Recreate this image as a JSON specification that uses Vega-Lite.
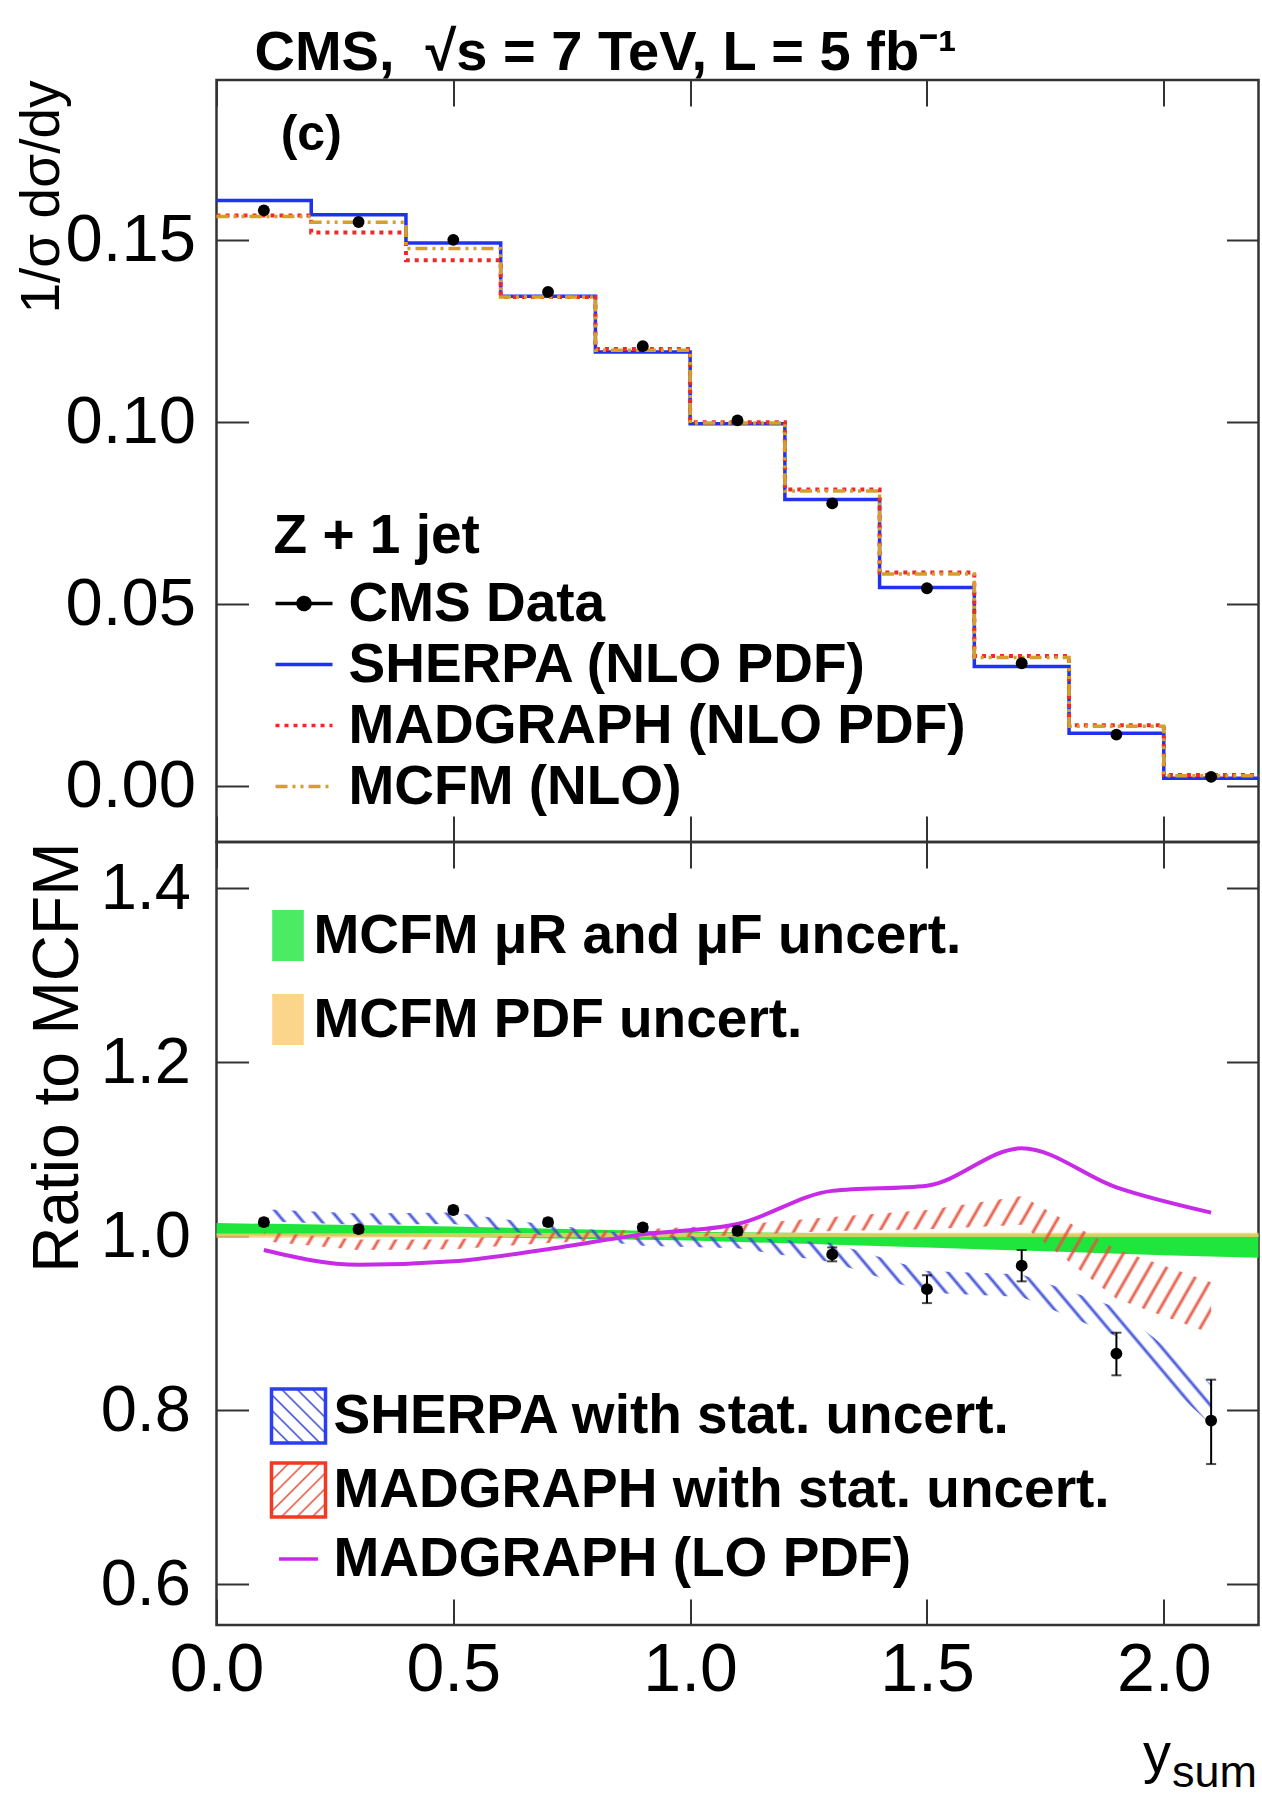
{
"$schema": "https://vega.github.io/schema/vega-lite/v6.json",
"background": "white",
"padding": {"left": 12.5, "top": 23, "right": 0, "bottom": 0},
"spacing": 0,
"bounds": "flush",
"datasets": {
"steps": [
{"edge":0,"series":"SHERPA (NLO PDF)","v":0.1609},{"edge":0.2,"series":"SHERPA (NLO PDF)","v":0.1570},{"edge":0.4,"series":"SHERPA (NLO PDF)","v":0.1492},{"edge":0.6,"series":"SHERPA (NLO PDF)","v":0.1346},{"edge":0.8,"series":"SHERPA (NLO PDF)","v":0.1193},{"edge":1.0,"series":"SHERPA (NLO PDF)","v":0.0996},{"edge":1.2,"series":"SHERPA (NLO PDF)","v":0.0788},{"edge":1.4,"series":"SHERPA (NLO PDF)","v":0.0546},{"edge":1.6,"series":"SHERPA (NLO PDF)","v":0.0329},{"edge":1.8,"series":"SHERPA (NLO PDF)","v":0.0146},{"edge":2.0,"series":"SHERPA (NLO PDF)","v":0.0022},{"edge":2.2,"series":"SHERPA (NLO PDF)","v":0.0022},
{"edge":0,"series":"MADGRAPH (NLO PDF)","v":0.1568},{"edge":0.2,"series":"MADGRAPH (NLO PDF)","v":0.1521},{"edge":0.4,"series":"MADGRAPH (NLO PDF)","v":0.1445},{"edge":0.6,"series":"MADGRAPH (NLO PDF)","v":0.1344},{"edge":0.8,"series":"MADGRAPH (NLO PDF)","v":0.1201},{"edge":1.0,"series":"MADGRAPH (NLO PDF)","v":0.1000},{"edge":1.2,"series":"MADGRAPH (NLO PDF)","v":0.0815},{"edge":1.4,"series":"MADGRAPH (NLO PDF)","v":0.0587},{"edge":1.6,"series":"MADGRAPH (NLO PDF)","v":0.0358},{"edge":1.8,"series":"MADGRAPH (NLO PDF)","v":0.0168},{"edge":2.0,"series":"MADGRAPH (NLO PDF)","v":0.0031},{"edge":2.2,"series":"MADGRAPH (NLO PDF)","v":0.0031},
{"edge":0,"series":"MCFM (NLO)","v":0.1565},{"edge":0.2,"series":"MCFM (NLO)","v":0.1549},{"edge":0.4,"series":"MCFM (NLO)","v":0.1477},{"edge":0.6,"series":"MCFM (NLO)","v":0.1344},{"edge":0.8,"series":"MCFM (NLO)","v":0.1198},{"edge":1.0,"series":"MCFM (NLO)","v":0.0998},{"edge":1.2,"series":"MCFM (NLO)","v":0.0811},{"edge":1.4,"series":"MCFM (NLO)","v":0.0583},{"edge":1.6,"series":"MCFM (NLO)","v":0.0354},{"edge":1.8,"series":"MCFM (NLO)","v":0.0165},{"edge":2.0,"series":"MCFM (NLO)","v":0.0029},{"edge":2.2,"series":"MCFM (NLO)","v":0.0029}
],
"cms": [
{"ysum":0.1,"xsec":0.1582,"xsec_lo":0.1578,"xsec_hi":0.1586,"ratio":1.016,"ratio_lo":1.012,"ratio_hi":1.020},
{"ysum":0.3,"xsec":0.1550,"xsec_lo":0.1546,"xsec_hi":0.1554,"ratio":1.008,"ratio_lo":1.004,"ratio_hi":1.012},
{"ysum":0.5,"xsec":0.1501,"xsec_lo":0.1497,"xsec_hi":0.1505,"ratio":1.030,"ratio_lo":1.026,"ratio_hi":1.034},
{"ysum":0.7,"xsec":0.1358,"xsec_lo":0.1354,"xsec_hi":0.1362,"ratio":1.016,"ratio_lo":1.012,"ratio_hi":1.020},
{"ysum":0.9,"xsec":0.1209,"xsec_lo":0.1205,"xsec_hi":0.1213,"ratio":1.010,"ratio_lo":1.006,"ratio_hi":1.014},
{"ysum":1.1,"xsec":0.1005,"xsec_lo":0.1001,"xsec_hi":0.1009,"ratio":1.006,"ratio_lo":1.001,"ratio_hi":1.011},
{"ysum":1.3,"xsec":0.0777,"xsec_lo":0.0773,"xsec_hi":0.0781,"ratio":0.979,"ratio_lo":0.971,"ratio_hi":0.987},
{"ysum":1.5,"xsec":0.0544,"xsec_lo":0.0541,"xsec_hi":0.0547,"ratio":0.939,"ratio_lo":0.923,"ratio_hi":0.955},
{"ysum":1.7,"xsec":0.0338,"xsec_lo":0.0335,"xsec_hi":0.0341,"ratio":0.966,"ratio_lo":0.948,"ratio_hi":0.984},
{"ysum":1.9,"xsec":0.0142,"xsec_lo":0.0140,"xsec_hi":0.0144,"ratio":0.865,"ratio_lo":0.840,"ratio_hi":0.889},
{"ysum":2.1,"xsec":0.0026,"xsec_lo":0.0024,"xsec_hi":0.0028,"ratio":0.788,"ratio_lo":0.738,"ratio_hi":0.835}
],
"mcfm_scale": [
{"x":0,"lo":1.001,"hi":1.015,"band":"MCFM μR and μF uncert."},
{"x":0.5,"lo":0.999,"hi":1.011,"band":"MCFM μR and μF uncert."},
{"x":1.0,"lo":0.995,"hi":1.005,"band":"MCFM μR and μF uncert."},
{"x":1.5,"lo":0.987,"hi":1.002,"band":"MCFM μR and μF uncert."},
{"x":2.0,"lo":0.978,"hi":1.002,"band":"MCFM μR and μF uncert."},
{"x":2.2,"lo":0.975,"hi":1.002,"band":"MCFM μR and μF uncert."}
],
"mcfm_pdf": [
{"x":0,"lo":0.998,"hi":1.003,"band":"MCFM PDF uncert."},
{"x":1.1,"lo":0.999,"hi":1.004,"band":"MCFM PDF uncert."},
{"x":2.2,"lo":0.999,"hi":1.004,"band":"MCFM PDF uncert."}
],
"sherpa_band": [
{"x":0.1,"lo":1.017,"hi":1.031},{"x":0.3,"lo":1.013,"hi":1.026},{"x":0.5,"lo":1.014,"hi":1.027},{"x":0.7,"lo":1.000,"hi":1.013},{"x":0.9,"lo":0.989,"hi":1.001},{"x":1.1,"lo":0.986,"hi":0.999},{"x":1.3,"lo":0.970,"hi":0.992},{"x":1.5,"lo":0.935,"hi":0.960},{"x":1.7,"lo":0.930,"hi":0.956},{"x":1.9,"lo":0.885,"hi":0.918},{"x":2.1,"lo":0.783,"hi":0.830}
],
"mg_band": [
{"x":0.1,"lo":0.994,"hi":1.005},{"x":0.3,"lo":0.984,"hi":0.996},{"x":0.5,"lo":0.985,"hi":0.996},{"x":0.7,"lo":0.992,"hi":1.004},{"x":0.9,"lo":0.997,"hi":1.008},{"x":1.1,"lo":1.001,"hi":1.013},{"x":1.3,"lo":1.006,"hi":1.022},{"x":1.5,"lo":1.008,"hi":1.030},{"x":1.7,"lo":1.013,"hi":1.046},{"x":1.9,"lo":0.928,"hi":0.985},{"x":2.1,"lo":0.888,"hi":0.947}
],
"mg_lo": [
{"x":0.1,"ratio":0.984,"model":"MADGRAPH (LO PDF)"},{"x":0.3,"ratio":0.967,"model":"MADGRAPH (LO PDF)"},{"x":0.5,"ratio":0.971,"model":"MADGRAPH (LO PDF)"},{"x":0.7,"ratio":0.985,"model":"MADGRAPH (LO PDF)"},{"x":0.9,"ratio":1.002,"model":"MADGRAPH (LO PDF)"},{"x":1.1,"ratio":1.014,"model":"MADGRAPH (LO PDF)"},{"x":1.3,"ratio":1.052,"model":"MADGRAPH (LO PDF)"},{"x":1.5,"ratio":1.058,"model":"MADGRAPH (LO PDF)"},{"x":1.7,"ratio":1.101,"model":"MADGRAPH (LO PDF)"},{"x":1.9,"ratio":1.056,"model":"MADGRAPH (LO PDF)"},{"x":2.1,"ratio":1.027,"model":"MADGRAPH (LO PDF)"}
],
"note": [{"label":"(c)"}]
},
"vconcat": [
{
"width": 1042,
"height": 762,
"title": {"text": "CMS,\u00a0 √s = 7 TeV, L = 5 fb⁻¹", "anchor": "start", "frame": "group", "dx": 38, "offset": -47, "baseline": "alphabetic", "font": "Liberation Sans", "fontSize": 56, "fontWeight": "bold", "color": "#000"},
"layer": [
{
"data": {"name": "steps"},
"transform": [{"filter": "datum.series === 'SHERPA (NLO PDF)'"}],
"mark": {"type": "line", "interpolate": "step-after", "strokeWidth": 3.5},
"encoding": {
"x": {"field": "edge", "type": "quantitative", "scale": {"domain": [0, 2.2], "nice": false, "zero": false}, "axis": {"orient": "top", "offset": -762, "labels": false, "ticks": true, "tickSize": 26, "values": [0, 0.5, 1, 1.5, 2], "title": null}},
"y": {"field": "v", "type": "quantitative", "scale": {"domain": [-0.0153, 0.194], "nice": false, "zero": false}, "axis": {"orient": "left", "ticks": false, "labelPadding": 21, "labelFontSize": 67, "values": [0, 0.05, 0.1, 0.15], "format": ".2f", "title": "1/σ dσ/dy", "titleFontSize": 55, "titleAngle": 270, "titleAlign": "right", "titleBaseline": "alphabetic", "titleX": -158, "titleY": 0}},
"color": {"field": "series", "type": "nominal", "scale": {"domain": ["CMS Data", "SHERPA (NLO PDF)", "MADGRAPH (NLO PDF)", "MCFM (NLO)"], "range": ["#000000", "#1e32f0", "#f02828", "#d4a02a"]},
"legend": {"orient": "none", "legendX": 57, "legendY": 430, "title": "Z + 1 jet", "titleFont": "Liberation Sans", "titleFontSize": 55, "titleFontWeight": "bold", "titleColor": "#000", "titlePadding": 8, "labelOffset": 14, "symbolType": "M-1,0H1", "symbolSize": 3249, "symbolStrokeWidth": 3.5, "rowPadding": 2,
"encode": {"symbols": {"update": {
"shape": [{"test": "datum.value === 'CMS Data'", "value": "M-1,0H1M-0.21,0A0.21,0.21,0,1,0,0.21,0A0.21,0.21,0,1,0,-0.21,0Z"}, {"value": "M-1,0H1"}],
"fill": [{"test": "datum.value === 'CMS Data'", "value": "#000000"}, {"value": "transparent"}]
}}}}},
"strokeDash": {"field": "series", "type": "nominal", "scale": {"domain": ["CMS Data", "SHERPA (NLO PDF)", "MADGRAPH (NLO PDF)", "MCFM (NLO)"], "range": [[1, 0], [1, 0], [4, 5], [12, 5, 3, 5, 3, 5]]}}
}
},
{
"data": {"name": "steps"},
"transform": [{"filter": "datum.series === 'MADGRAPH (NLO PDF)'"}],
"mark": {"type": "line", "interpolate": "step-after", "strokeWidth": 4},
"encoding": {
"x": {"field": "edge", "type": "quantitative", "scale": {"domain": [0, 2.2], "nice": false, "zero": false}, "axis": {"orient": "bottom", "offset": -762, "labels": false, "ticks": true, "tickSize": 26, "values": [0, 0.5, 1, 1.5, 2], "title": null}},
"y": {"field": "v", "type": "quantitative", "scale": {"domain": [-0.0153, 0.194], "nice": false, "zero": false}, "axis": {"orient": "right", "offset": -1042, "labels": false, "ticks": true, "tickSize": 32, "values": [0, 0.05, 0.1, 0.15], "title": null}},
"color": {"field": "series", "type": "nominal"},
"strokeDash": {"field": "series", "type": "nominal"}
}
},
{
"data": {"name": "steps"},
"transform": [{"filter": "datum.series === 'MCFM (NLO)'"}],
"mark": {"type": "line", "interpolate": "step-after", "strokeWidth": 3.5},
"encoding": {
"x": {"field": "edge", "type": "quantitative", "scale": {"domain": [0, 2.2], "nice": false, "zero": false}, "axis": null},
"y": {"field": "v", "type": "quantitative", "scale": {"domain": [-0.0153, 0.194], "nice": false, "zero": false}, "axis": {"orient": "left", "offset": -1042, "labels": false, "ticks": true, "tickSize": 32, "values": [0, 0.05, 0.1, 0.15], "title": null}},
"color": {"field": "series", "type": "nominal"},
"strokeDash": {"field": "series", "type": "nominal"}
}
},
{
"data": {"name": "cms"},
"mark": {"type": "rule", "strokeWidth": 2, "color": "#000"},
"encoding": {
"x": {"field": "ysum", "type": "quantitative", "scale": {"domain": [0, 2.2], "nice": false, "zero": false}, "axis": null},
"y": {"field": "xsec_lo", "type": "quantitative", "scale": {"domain": [-0.0153, 0.194], "nice": false, "zero": false}, "axis": null},
"y2": {"field": "xsec_hi"}
}
},
{
"data": {"name": "cms"},
"mark": {"type": "circle", "size": 140, "color": "#000", "opacity": 1},
"encoding": {
"x": {"field": "ysum", "type": "quantitative", "scale": {"domain": [0, 2.2], "nice": false, "zero": false}, "axis": null},
"y": {"field": "xsec", "type": "quantitative", "scale": {"domain": [-0.0153, 0.194], "nice": false, "zero": false}, "axis": null}
}
},
{
"data": {"name": "note"},
"mark": {"type": "text", "font": "Liberation Sans", "fontSize": 50, "fontWeight": "bold", "align": "center", "baseline": "middle", "color": "#000"},
"encoding": {
"x": {"datum": 0.2, "type": "quantitative", "scale": {"domain": [0, 2.2], "nice": false, "zero": false}, "axis": null},
"y": {"datum": 0.179, "type": "quantitative", "scale": {"domain": [-0.0153, 0.194], "nice": false, "zero": false}, "axis": null},
"text": {"field": "label"}
}
}
],
"resolve": {"axis": {"x": "independent", "y": "independent"}}
},
{
"width": 1042,
"height": 783,
"layer": [
{
"data": {"name": "mcfm_scale"},
"mark": {"type": "area", "opacity": 1},
"encoding": {
"x": {"field": "x", "type": "quantitative", "scale": {"domain": [0, 2.2], "nice": false, "zero": false}, "axis": {"orient": "bottom", "ticks": false, "labelPadding": 11, "labelFontSize": 68, "labelFlush": false, "values": [0, 0.5, 1, 1.5, 2], "format": ".1f", "title": "y", "titleFontSize": 56, "titleAlign": "left", "titleBaseline": "alphabetic", "titleAngle": 0, "titleX": 926, "titleY": 146}},
"y": {"field": "lo", "type": "quantitative", "scale": {"domain": [0.553, 1.453], "nice": false, "zero": false}, "axis": {"orient": "left", "ticks": false, "labelPadding": 26, "labelFontSize": 65, "values": [0.6, 0.8, 1, 1.2, 1.4], "format": ".1f", "title": "Ratio to MCFM", "titleFontSize": 64, "titleAngle": 270, "titleAlign": "right", "titleBaseline": "alphabetic", "titleX": -139, "titleY": 0}},
"y2": {"field": "hi"},
"fill": {"field": "band", "type": "nominal", "scale": {"domain": ["MCFM μR and μF uncert.", "MCFM PDF uncert."], "range": ["#1ee63c", "#fcc96e"]},
"legend": {"orient": "none", "legendX": 44, "legendY": 828, "title": null, "labelOffset": -2, "symbolType": "M-0.62,-1H0.62V1H-0.62Z", "symbolSize": 2601, "symbolStrokeWidth": 0, "symbolOpacity": 1, "rowPadding": 28}}
}
},
{
"data": {"name": "mcfm_pdf"},
"mark": {"type": "area", "opacity": 0.8},
"encoding": {
"x": {"field": "x", "type": "quantitative", "scale": {"domain": [0, 2.2], "nice": false, "zero": false}, "axis": null},
"y": {"field": "lo", "type": "quantitative", "scale": {"domain": [0.553, 1.453], "nice": false, "zero": false}, "axis": null},
"y2": {"field": "hi"},
"fill": {"field": "band", "type": "nominal"}
}
},
{
"data": {"name": "sherpa_band"},
"mark": {"type": "area", "fill": {"gradient": "linear", "x1": 0, "y1": 1, "x2": 1.1496, "y2": 0.7794, "stops": [
{"offset":0,"color":"#3a4bd600"},{"offset":0.003,"color":"#3a4bd6"},{"offset":0.006,"color":"#3a4bd600"},
{"offset":0.0167,"color":"#3a4bd600"},{"offset":0.0197,"color":"#3a4bd6"},{"offset":0.0227,"color":"#3a4bd600"},
{"offset":0.0333,"color":"#3a4bd600"},{"offset":0.0363,"color":"#3a4bd6"},{"offset":0.0393,"color":"#3a4bd600"},
{"offset":0.05,"color":"#3a4bd600"},{"offset":0.053,"color":"#3a4bd6"},{"offset":0.056,"color":"#3a4bd600"},
{"offset":0.0667,"color":"#3a4bd600"},{"offset":0.0697,"color":"#3a4bd6"},{"offset":0.0727,"color":"#3a4bd600"},
{"offset":0.0833,"color":"#3a4bd600"},{"offset":0.0863,"color":"#3a4bd6"},{"offset":0.0893,"color":"#3a4bd600"},
{"offset":0.1,"color":"#3a4bd600"},{"offset":0.103,"color":"#3a4bd6"},{"offset":0.106,"color":"#3a4bd600"},
{"offset":0.1167,"color":"#3a4bd600"},{"offset":0.1197,"color":"#3a4bd6"},{"offset":0.1227,"color":"#3a4bd600"},
{"offset":0.1333,"color":"#3a4bd600"},{"offset":0.1363,"color":"#3a4bd6"},{"offset":0.1393,"color":"#3a4bd600"},
{"offset":0.15,"color":"#3a4bd600"},{"offset":0.153,"color":"#3a4bd6"},{"offset":0.156,"color":"#3a4bd600"},
{"offset":0.1667,"color":"#3a4bd600"},{"offset":0.1697,"color":"#3a4bd6"},{"offset":0.1727,"color":"#3a4bd600"},
{"offset":0.1833,"color":"#3a4bd600"},{"offset":0.1863,"color":"#3a4bd6"},{"offset":0.1893,"color":"#3a4bd600"},
{"offset":0.2,"color":"#3a4bd600"},{"offset":0.203,"color":"#3a4bd6"},{"offset":0.206,"color":"#3a4bd600"},
{"offset":0.2167,"color":"#3a4bd600"},{"offset":0.2197,"color":"#3a4bd6"},{"offset":0.2227,"color":"#3a4bd600"},
{"offset":0.2333,"color":"#3a4bd600"},{"offset":0.2363,"color":"#3a4bd6"},{"offset":0.2393,"color":"#3a4bd600"},
{"offset":0.25,"color":"#3a4bd600"},{"offset":0.253,"color":"#3a4bd6"},{"offset":0.256,"color":"#3a4bd600"},
{"offset":0.2667,"color":"#3a4bd600"},{"offset":0.2697,"color":"#3a4bd6"},{"offset":0.2727,"color":"#3a4bd600"},
{"offset":0.2833,"color":"#3a4bd600"},{"offset":0.2863,"color":"#3a4bd6"},{"offset":0.2893,"color":"#3a4bd600"},
{"offset":0.3,"color":"#3a4bd600"},{"offset":0.303,"color":"#3a4bd6"},{"offset":0.306,"color":"#3a4bd600"},
{"offset":0.3167,"color":"#3a4bd600"},{"offset":0.3197,"color":"#3a4bd6"},{"offset":0.3227,"color":"#3a4bd600"},
{"offset":0.3333,"color":"#3a4bd600"},{"offset":0.3363,"color":"#3a4bd6"},{"offset":0.3393,"color":"#3a4bd600"},
{"offset":0.35,"color":"#3a4bd600"},{"offset":0.353,"color":"#3a4bd6"},{"offset":0.356,"color":"#3a4bd600"},
{"offset":0.3667,"color":"#3a4bd600"},{"offset":0.3697,"color":"#3a4bd6"},{"offset":0.3727,"color":"#3a4bd600"},
{"offset":0.3833,"color":"#3a4bd600"},{"offset":0.3863,"color":"#3a4bd6"},{"offset":0.3893,"color":"#3a4bd600"},
{"offset":0.4,"color":"#3a4bd600"},{"offset":0.403,"color":"#3a4bd6"},{"offset":0.406,"color":"#3a4bd600"},
{"offset":0.4167,"color":"#3a4bd600"},{"offset":0.4197,"color":"#3a4bd6"},{"offset":0.4227,"color":"#3a4bd600"},
{"offset":0.4333,"color":"#3a4bd600"},{"offset":0.4363,"color":"#3a4bd6"},{"offset":0.4393,"color":"#3a4bd600"},
{"offset":0.45,"color":"#3a4bd600"},{"offset":0.453,"color":"#3a4bd6"},{"offset":0.456,"color":"#3a4bd600"},
{"offset":0.4667,"color":"#3a4bd600"},{"offset":0.4697,"color":"#3a4bd6"},{"offset":0.4727,"color":"#3a4bd600"},
{"offset":0.4833,"color":"#3a4bd600"},{"offset":0.4863,"color":"#3a4bd6"},{"offset":0.4893,"color":"#3a4bd600"},
{"offset":0.5,"color":"#3a4bd600"},{"offset":0.503,"color":"#3a4bd6"},{"offset":0.506,"color":"#3a4bd600"},
{"offset":0.5167,"color":"#3a4bd600"},{"offset":0.5197,"color":"#3a4bd6"},{"offset":0.5227,"color":"#3a4bd600"},
{"offset":0.5333,"color":"#3a4bd600"},{"offset":0.5363,"color":"#3a4bd6"},{"offset":0.5393,"color":"#3a4bd600"},
{"offset":0.55,"color":"#3a4bd600"},{"offset":0.553,"color":"#3a4bd6"},{"offset":0.556,"color":"#3a4bd600"},
{"offset":0.5667,"color":"#3a4bd600"},{"offset":0.5697,"color":"#3a4bd6"},{"offset":0.5727,"color":"#3a4bd600"},
{"offset":0.5833,"color":"#3a4bd600"},{"offset":0.5863,"color":"#3a4bd6"},{"offset":0.5893,"color":"#3a4bd600"},
{"offset":0.6,"color":"#3a4bd600"},{"offset":0.603,"color":"#3a4bd6"},{"offset":0.606,"color":"#3a4bd600"},
{"offset":0.6167,"color":"#3a4bd600"},{"offset":0.6197,"color":"#3a4bd6"},{"offset":0.6227,"color":"#3a4bd600"},
{"offset":0.6333,"color":"#3a4bd600"},{"offset":0.6363,"color":"#3a4bd6"},{"offset":0.6393,"color":"#3a4bd600"},
{"offset":0.65,"color":"#3a4bd600"},{"offset":0.653,"color":"#3a4bd6"},{"offset":0.656,"color":"#3a4bd600"},
{"offset":0.6667,"color":"#3a4bd600"},{"offset":0.6697,"color":"#3a4bd6"},{"offset":0.6727,"color":"#3a4bd600"},
{"offset":0.6833,"color":"#3a4bd600"},{"offset":0.6863,"color":"#3a4bd6"},{"offset":0.6893,"color":"#3a4bd600"},
{"offset":0.7,"color":"#3a4bd600"},{"offset":0.703,"color":"#3a4bd6"},{"offset":0.706,"color":"#3a4bd600"},
{"offset":0.7167,"color":"#3a4bd600"},{"offset":0.7197,"color":"#3a4bd6"},{"offset":0.7227,"color":"#3a4bd600"},
{"offset":0.7333,"color":"#3a4bd600"},{"offset":0.7363,"color":"#3a4bd6"},{"offset":0.7393,"color":"#3a4bd600"},
{"offset":0.75,"color":"#3a4bd600"},{"offset":0.753,"color":"#3a4bd6"},{"offset":0.756,"color":"#3a4bd600"},
{"offset":0.7667,"color":"#3a4bd600"},{"offset":0.7697,"color":"#3a4bd6"},{"offset":0.7727,"color":"#3a4bd600"},
{"offset":0.7833,"color":"#3a4bd600"},{"offset":0.7863,"color":"#3a4bd6"},{"offset":0.7893,"color":"#3a4bd600"},
{"offset":0.8,"color":"#3a4bd600"},{"offset":0.803,"color":"#3a4bd6"},{"offset":0.806,"color":"#3a4bd600"},
{"offset":0.8167,"color":"#3a4bd600"},{"offset":0.8197,"color":"#3a4bd6"},{"offset":0.8227,"color":"#3a4bd600"},
{"offset":0.8333,"color":"#3a4bd600"},{"offset":0.8363,"color":"#3a4bd6"},{"offset":0.8393,"color":"#3a4bd600"},
{"offset":0.85,"color":"#3a4bd600"},{"offset":0.853,"color":"#3a4bd6"},{"offset":0.856,"color":"#3a4bd600"},
{"offset":0.8667,"color":"#3a4bd600"},{"offset":0.8697,"color":"#3a4bd6"},{"offset":0.8727,"color":"#3a4bd600"},
{"offset":0.8833,"color":"#3a4bd600"},{"offset":0.8863,"color":"#3a4bd6"},{"offset":0.8893,"color":"#3a4bd600"},
{"offset":0.9,"color":"#3a4bd600"},{"offset":0.903,"color":"#3a4bd6"},{"offset":0.906,"color":"#3a4bd600"},
{"offset":0.9167,"color":"#3a4bd600"},{"offset":0.9197,"color":"#3a4bd6"},{"offset":0.9227,"color":"#3a4bd600"},
{"offset":0.9333,"color":"#3a4bd600"},{"offset":0.9363,"color":"#3a4bd6"},{"offset":0.9393,"color":"#3a4bd600"},
{"offset":0.95,"color":"#3a4bd600"},{"offset":0.953,"color":"#3a4bd6"},{"offset":0.956,"color":"#3a4bd600"},
{"offset":0.9667,"color":"#3a4bd600"},{"offset":0.9697,"color":"#3a4bd6"},{"offset":0.9727,"color":"#3a4bd600"},
{"offset":0.9833,"color":"#3a4bd600"},{"offset":0.9863,"color":"#3a4bd6"},{"offset":0.9893,"color":"#3a4bd600"}
]}},
"encoding": {
"x": {"field": "x", "type": "quantitative", "scale": {"domain": [0, 2.2], "nice": false, "zero": false}, "axis": {"orient": "top", "offset": -783, "labels": false, "ticks": true, "tickSize": 26, "values": [0, 0.5, 1, 1.5, 2], "title": "sum", "titleFontSize": 45, "titleAlign": "left", "titleBaseline": "alphabetic", "titleAngle": 0, "titleX": 955, "titleY": 161}},
"y": {"field": "lo", "type": "quantitative", "scale": {"domain": [0.553, 1.453], "nice": false, "zero": false}, "axis": {"orient": "right", "offset": -1042, "labels": false, "ticks": true, "tickSize": 32, "values": [0.6, 0.8, 1, 1.2, 1.4], "title": null}},
"y2": {"field": "hi"}
}
},
{
"data": {"name": "mg_band"},
"mark": {"type": "area", "fill": {"gradient": "linear", "x1": 0, "y1": 0, "x2": 1.0758, "y2": 0.0896, "stops": [
{"offset":0,"color":"#e4533f00"},{"offset":0.003,"color":"#e4533f"},{"offset":0.006,"color":"#e4533f00"},
{"offset":0.0167,"color":"#e4533f00"},{"offset":0.0197,"color":"#e4533f"},{"offset":0.0227,"color":"#e4533f00"},
{"offset":0.0333,"color":"#e4533f00"},{"offset":0.0363,"color":"#e4533f"},{"offset":0.0393,"color":"#e4533f00"},
{"offset":0.05,"color":"#e4533f00"},{"offset":0.053,"color":"#e4533f"},{"offset":0.056,"color":"#e4533f00"},
{"offset":0.0667,"color":"#e4533f00"},{"offset":0.0697,"color":"#e4533f"},{"offset":0.0727,"color":"#e4533f00"},
{"offset":0.0833,"color":"#e4533f00"},{"offset":0.0863,"color":"#e4533f"},{"offset":0.0893,"color":"#e4533f00"},
{"offset":0.1,"color":"#e4533f00"},{"offset":0.103,"color":"#e4533f"},{"offset":0.106,"color":"#e4533f00"},
{"offset":0.1167,"color":"#e4533f00"},{"offset":0.1197,"color":"#e4533f"},{"offset":0.1227,"color":"#e4533f00"},
{"offset":0.1333,"color":"#e4533f00"},{"offset":0.1363,"color":"#e4533f"},{"offset":0.1393,"color":"#e4533f00"},
{"offset":0.15,"color":"#e4533f00"},{"offset":0.153,"color":"#e4533f"},{"offset":0.156,"color":"#e4533f00"},
{"offset":0.1667,"color":"#e4533f00"},{"offset":0.1697,"color":"#e4533f"},{"offset":0.1727,"color":"#e4533f00"},
{"offset":0.1833,"color":"#e4533f00"},{"offset":0.1863,"color":"#e4533f"},{"offset":0.1893,"color":"#e4533f00"},
{"offset":0.2,"color":"#e4533f00"},{"offset":0.203,"color":"#e4533f"},{"offset":0.206,"color":"#e4533f00"},
{"offset":0.2167,"color":"#e4533f00"},{"offset":0.2197,"color":"#e4533f"},{"offset":0.2227,"color":"#e4533f00"},
{"offset":0.2333,"color":"#e4533f00"},{"offset":0.2363,"color":"#e4533f"},{"offset":0.2393,"color":"#e4533f00"},
{"offset":0.25,"color":"#e4533f00"},{"offset":0.253,"color":"#e4533f"},{"offset":0.256,"color":"#e4533f00"},
{"offset":0.2667,"color":"#e4533f00"},{"offset":0.2697,"color":"#e4533f"},{"offset":0.2727,"color":"#e4533f00"},
{"offset":0.2833,"color":"#e4533f00"},{"offset":0.2863,"color":"#e4533f"},{"offset":0.2893,"color":"#e4533f00"},
{"offset":0.3,"color":"#e4533f00"},{"offset":0.303,"color":"#e4533f"},{"offset":0.306,"color":"#e4533f00"},
{"offset":0.3167,"color":"#e4533f00"},{"offset":0.3197,"color":"#e4533f"},{"offset":0.3227,"color":"#e4533f00"},
{"offset":0.3333,"color":"#e4533f00"},{"offset":0.3363,"color":"#e4533f"},{"offset":0.3393,"color":"#e4533f00"},
{"offset":0.35,"color":"#e4533f00"},{"offset":0.353,"color":"#e4533f"},{"offset":0.356,"color":"#e4533f00"},
{"offset":0.3667,"color":"#e4533f00"},{"offset":0.3697,"color":"#e4533f"},{"offset":0.3727,"color":"#e4533f00"},
{"offset":0.3833,"color":"#e4533f00"},{"offset":0.3863,"color":"#e4533f"},{"offset":0.3893,"color":"#e4533f00"},
{"offset":0.4,"color":"#e4533f00"},{"offset":0.403,"color":"#e4533f"},{"offset":0.406,"color":"#e4533f00"},
{"offset":0.4167,"color":"#e4533f00"},{"offset":0.4197,"color":"#e4533f"},{"offset":0.4227,"color":"#e4533f00"},
{"offset":0.4333,"color":"#e4533f00"},{"offset":0.4363,"color":"#e4533f"},{"offset":0.4393,"color":"#e4533f00"},
{"offset":0.45,"color":"#e4533f00"},{"offset":0.453,"color":"#e4533f"},{"offset":0.456,"color":"#e4533f00"},
{"offset":0.4667,"color":"#e4533f00"},{"offset":0.4697,"color":"#e4533f"},{"offset":0.4727,"color":"#e4533f00"},
{"offset":0.4833,"color":"#e4533f00"},{"offset":0.4863,"color":"#e4533f"},{"offset":0.4893,"color":"#e4533f00"},
{"offset":0.5,"color":"#e4533f00"},{"offset":0.503,"color":"#e4533f"},{"offset":0.506,"color":"#e4533f00"},
{"offset":0.5167,"color":"#e4533f00"},{"offset":0.5197,"color":"#e4533f"},{"offset":0.5227,"color":"#e4533f00"},
{"offset":0.5333,"color":"#e4533f00"},{"offset":0.5363,"color":"#e4533f"},{"offset":0.5393,"color":"#e4533f00"},
{"offset":0.55,"color":"#e4533f00"},{"offset":0.553,"color":"#e4533f"},{"offset":0.556,"color":"#e4533f00"},
{"offset":0.5667,"color":"#e4533f00"},{"offset":0.5697,"color":"#e4533f"},{"offset":0.5727,"color":"#e4533f00"},
{"offset":0.5833,"color":"#e4533f00"},{"offset":0.5863,"color":"#e4533f"},{"offset":0.5893,"color":"#e4533f00"},
{"offset":0.6,"color":"#e4533f00"},{"offset":0.603,"color":"#e4533f"},{"offset":0.606,"color":"#e4533f00"},
{"offset":0.6167,"color":"#e4533f00"},{"offset":0.6197,"color":"#e4533f"},{"offset":0.6227,"color":"#e4533f00"},
{"offset":0.6333,"color":"#e4533f00"},{"offset":0.6363,"color":"#e4533f"},{"offset":0.6393,"color":"#e4533f00"},
{"offset":0.65,"color":"#e4533f00"},{"offset":0.653,"color":"#e4533f"},{"offset":0.656,"color":"#e4533f00"},
{"offset":0.6667,"color":"#e4533f00"},{"offset":0.6697,"color":"#e4533f"},{"offset":0.6727,"color":"#e4533f00"},
{"offset":0.6833,"color":"#e4533f00"},{"offset":0.6863,"color":"#e4533f"},{"offset":0.6893,"color":"#e4533f00"},
{"offset":0.7,"color":"#e4533f00"},{"offset":0.703,"color":"#e4533f"},{"offset":0.706,"color":"#e4533f00"},
{"offset":0.7167,"color":"#e4533f00"},{"offset":0.7197,"color":"#e4533f"},{"offset":0.7227,"color":"#e4533f00"},
{"offset":0.7333,"color":"#e4533f00"},{"offset":0.7363,"color":"#e4533f"},{"offset":0.7393,"color":"#e4533f00"},
{"offset":0.75,"color":"#e4533f00"},{"offset":0.753,"color":"#e4533f"},{"offset":0.756,"color":"#e4533f00"},
{"offset":0.7667,"color":"#e4533f00"},{"offset":0.7697,"color":"#e4533f"},{"offset":0.7727,"color":"#e4533f00"},
{"offset":0.7833,"color":"#e4533f00"},{"offset":0.7863,"color":"#e4533f"},{"offset":0.7893,"color":"#e4533f00"},
{"offset":0.8,"color":"#e4533f00"},{"offset":0.803,"color":"#e4533f"},{"offset":0.806,"color":"#e4533f00"},
{"offset":0.8167,"color":"#e4533f00"},{"offset":0.8197,"color":"#e4533f"},{"offset":0.8227,"color":"#e4533f00"},
{"offset":0.8333,"color":"#e4533f00"},{"offset":0.8363,"color":"#e4533f"},{"offset":0.8393,"color":"#e4533f00"},
{"offset":0.85,"color":"#e4533f00"},{"offset":0.853,"color":"#e4533f"},{"offset":0.856,"color":"#e4533f00"},
{"offset":0.8667,"color":"#e4533f00"},{"offset":0.8697,"color":"#e4533f"},{"offset":0.8727,"color":"#e4533f00"},
{"offset":0.8833,"color":"#e4533f00"},{"offset":0.8863,"color":"#e4533f"},{"offset":0.8893,"color":"#e4533f00"},
{"offset":0.9,"color":"#e4533f00"},{"offset":0.903,"color":"#e4533f"},{"offset":0.906,"color":"#e4533f00"},
{"offset":0.9167,"color":"#e4533f00"},{"offset":0.9197,"color":"#e4533f"},{"offset":0.9227,"color":"#e4533f00"},
{"offset":0.9333,"color":"#e4533f00"},{"offset":0.9363,"color":"#e4533f"},{"offset":0.9393,"color":"#e4533f00"},
{"offset":0.95,"color":"#e4533f00"},{"offset":0.953,"color":"#e4533f"},{"offset":0.956,"color":"#e4533f00"},
{"offset":0.9667,"color":"#e4533f00"},{"offset":0.9697,"color":"#e4533f"},{"offset":0.9727,"color":"#e4533f00"},
{"offset":0.9833,"color":"#e4533f00"},{"offset":0.9863,"color":"#e4533f"},{"offset":0.9893,"color":"#e4533f00"}
]}},
"encoding": {
"x": {"field": "x", "type": "quantitative", "scale": {"domain": [0, 2.2], "nice": false, "zero": false}, "axis": {"orient": "bottom", "offset": -783, "labels": false, "ticks": true, "tickSize": 26, "values": [0, 0.5, 1, 1.5, 2], "title": null}},
"y": {"field": "lo", "type": "quantitative", "scale": {"domain": [0.553, 1.453], "nice": false, "zero": false}, "axis": {"orient": "left", "offset": -1042, "labels": false, "ticks": true, "tickSize": 32, "values": [0.6, 0.8, 1, 1.2, 1.4], "title": null}},
"y2": {"field": "hi"}
}
},
{
"data": {"name": "mg_lo"},
"mark": {"type": "line", "interpolate": "monotone", "strokeWidth": 4},
"encoding": {
"x": {"field": "x", "type": "quantitative", "scale": {"domain": [0, 2.2], "nice": false, "zero": false}, "axis": null},
"y": {"field": "ratio", "type": "quantitative", "scale": {"domain": [0.553, 1.453], "nice": false, "zero": false}, "axis": null},
"stroke": {"field": "model", "type": "nominal", "scale": {"domain": ["SHERPA with stat. uncert.", "MADGRAPH with stat. uncert.", "MADGRAPH (LO PDF)"], "range": ["#2a3ff0", "#f03a24", "#c82be8"]},
"legend": {"orient": "none", "legendX": 53, "legendY": 1307, "title": null, "labelOffset": 6, "symbolType": "M-1,-1H1V1H-1Z", "symbolSize": 2916, "symbolStrokeWidth": 3.5, "rowPadding": 6,
"encode": {"symbols": {"update": {
"shape": [{"test": "datum.value === 'MADGRAPH (LO PDF)'", "value": "M-0.72,0H0.72"}, {"value": "M-1,-1H1V1H-1Z"}],
"fill": [
{"test": "datum.value === 'SHERPA with stat. uncert.'", "value": {"gradient": "linear", "x1": 0, "y1": 1, "x2": 1, "y2": 0, "stops": [
{"offset":0,"color":"#3a4bd600"},{"offset":0.02,"color":"#3a4bd6"},{"offset":0.04,"color":"#3a4bd600"},
{"offset":0.1429,"color":"#3a4bd600"},{"offset":0.1629,"color":"#3a4bd6"},{"offset":0.1829,"color":"#3a4bd600"},
{"offset":0.2857,"color":"#3a4bd600"},{"offset":0.3057,"color":"#3a4bd6"},{"offset":0.3257,"color":"#3a4bd600"},
{"offset":0.4286,"color":"#3a4bd600"},{"offset":0.4486,"color":"#3a4bd6"},{"offset":0.4686,"color":"#3a4bd600"},
{"offset":0.5714,"color":"#3a4bd600"},{"offset":0.5914,"color":"#3a4bd6"},{"offset":0.6114,"color":"#3a4bd600"},
{"offset":0.7143,"color":"#3a4bd600"},{"offset":0.7343,"color":"#3a4bd6"},{"offset":0.7543,"color":"#3a4bd600"},
{"offset":0.8571,"color":"#3a4bd600"},{"offset":0.8771,"color":"#3a4bd6"},{"offset":0.8971,"color":"#3a4bd600"}
]}},
{"test": "datum.value === 'MADGRAPH with stat. uncert.'", "value": {"gradient": "linear", "x1": 0, "y1": 0, "x2": 1, "y2": 1, "stops": [
{"offset":0,"color":"#e4533f00"},{"offset":0.02,"color":"#e4533f"},{"offset":0.04,"color":"#e4533f00"},
{"offset":0.1429,"color":"#e4533f00"},{"offset":0.1629,"color":"#e4533f"},{"offset":0.1829,"color":"#e4533f00"},
{"offset":0.2857,"color":"#e4533f00"},{"offset":0.3057,"color":"#e4533f"},{"offset":0.3257,"color":"#e4533f00"},
{"offset":0.4286,"color":"#e4533f00"},{"offset":0.4486,"color":"#e4533f"},{"offset":0.4686,"color":"#e4533f00"},
{"offset":0.5714,"color":"#e4533f00"},{"offset":0.5914,"color":"#e4533f"},{"offset":0.6114,"color":"#e4533f00"},
{"offset":0.7143,"color":"#e4533f00"},{"offset":0.7343,"color":"#e4533f"},{"offset":0.7543,"color":"#e4533f00"},
{"offset":0.8571,"color":"#e4533f00"},{"offset":0.8771,"color":"#e4533f"},{"offset":0.8971,"color":"#e4533f00"}
]}},
{"value": "transparent"}
]
}}}}}
}
},
{
"data": {"name": "cms"},
"mark": {"type": "errorbar", "color": "#000", "ticks": {"size": 10, "thickness": 2, "color": "#000"}, "rule": {"strokeWidth": 2, "color": "#000"}},
"encoding": {
"x": {"field": "ysum", "type": "quantitative", "scale": {"domain": [0, 2.2], "nice": false, "zero": false}, "axis": null},
"y": {"field": "ratio_lo", "type": "quantitative", "scale": {"domain": [0.553, 1.453], "nice": false, "zero": false}, "axis": null},
"y2": {"field": "ratio_hi"}
}
},
{
"data": {"name": "cms"},
"mark": {"type": "circle", "size": 140, "color": "#000", "opacity": 1},
"encoding": {
"x": {"field": "ysum", "type": "quantitative", "scale": {"domain": [0, 2.2], "nice": false, "zero": false}, "axis": null},
"y": {"field": "ratio", "type": "quantitative", "scale": {"domain": [0.553, 1.453], "nice": false, "zero": false}, "axis": null}
}
}
],
"resolve": {"axis": {"x": "independent", "y": "independent"}}
}
],
"config": {
"view": {"stroke": "#333", "strokeWidth": 2.5},
"axis": {"domain": false, "grid": false, "tickColor": "#333", "tickWidth": 2, "labelFont": "Liberation Sans", "labelFontSize": 64, "labelColor": "#000", "titleFont": "Liberation Sans", "titleFontWeight": "normal", "titleColor": "#000", "labelOverlap": false},
"legend": {"labelFont": "Liberation Sans", "labelColor": "#000", "labelFontWeight": "bold", "labelFontSize": 55, "labelLimit": 2000, "titleLimit": 2000, "padding": 0},
"text": {"font": "Liberation Sans"}
}
}
